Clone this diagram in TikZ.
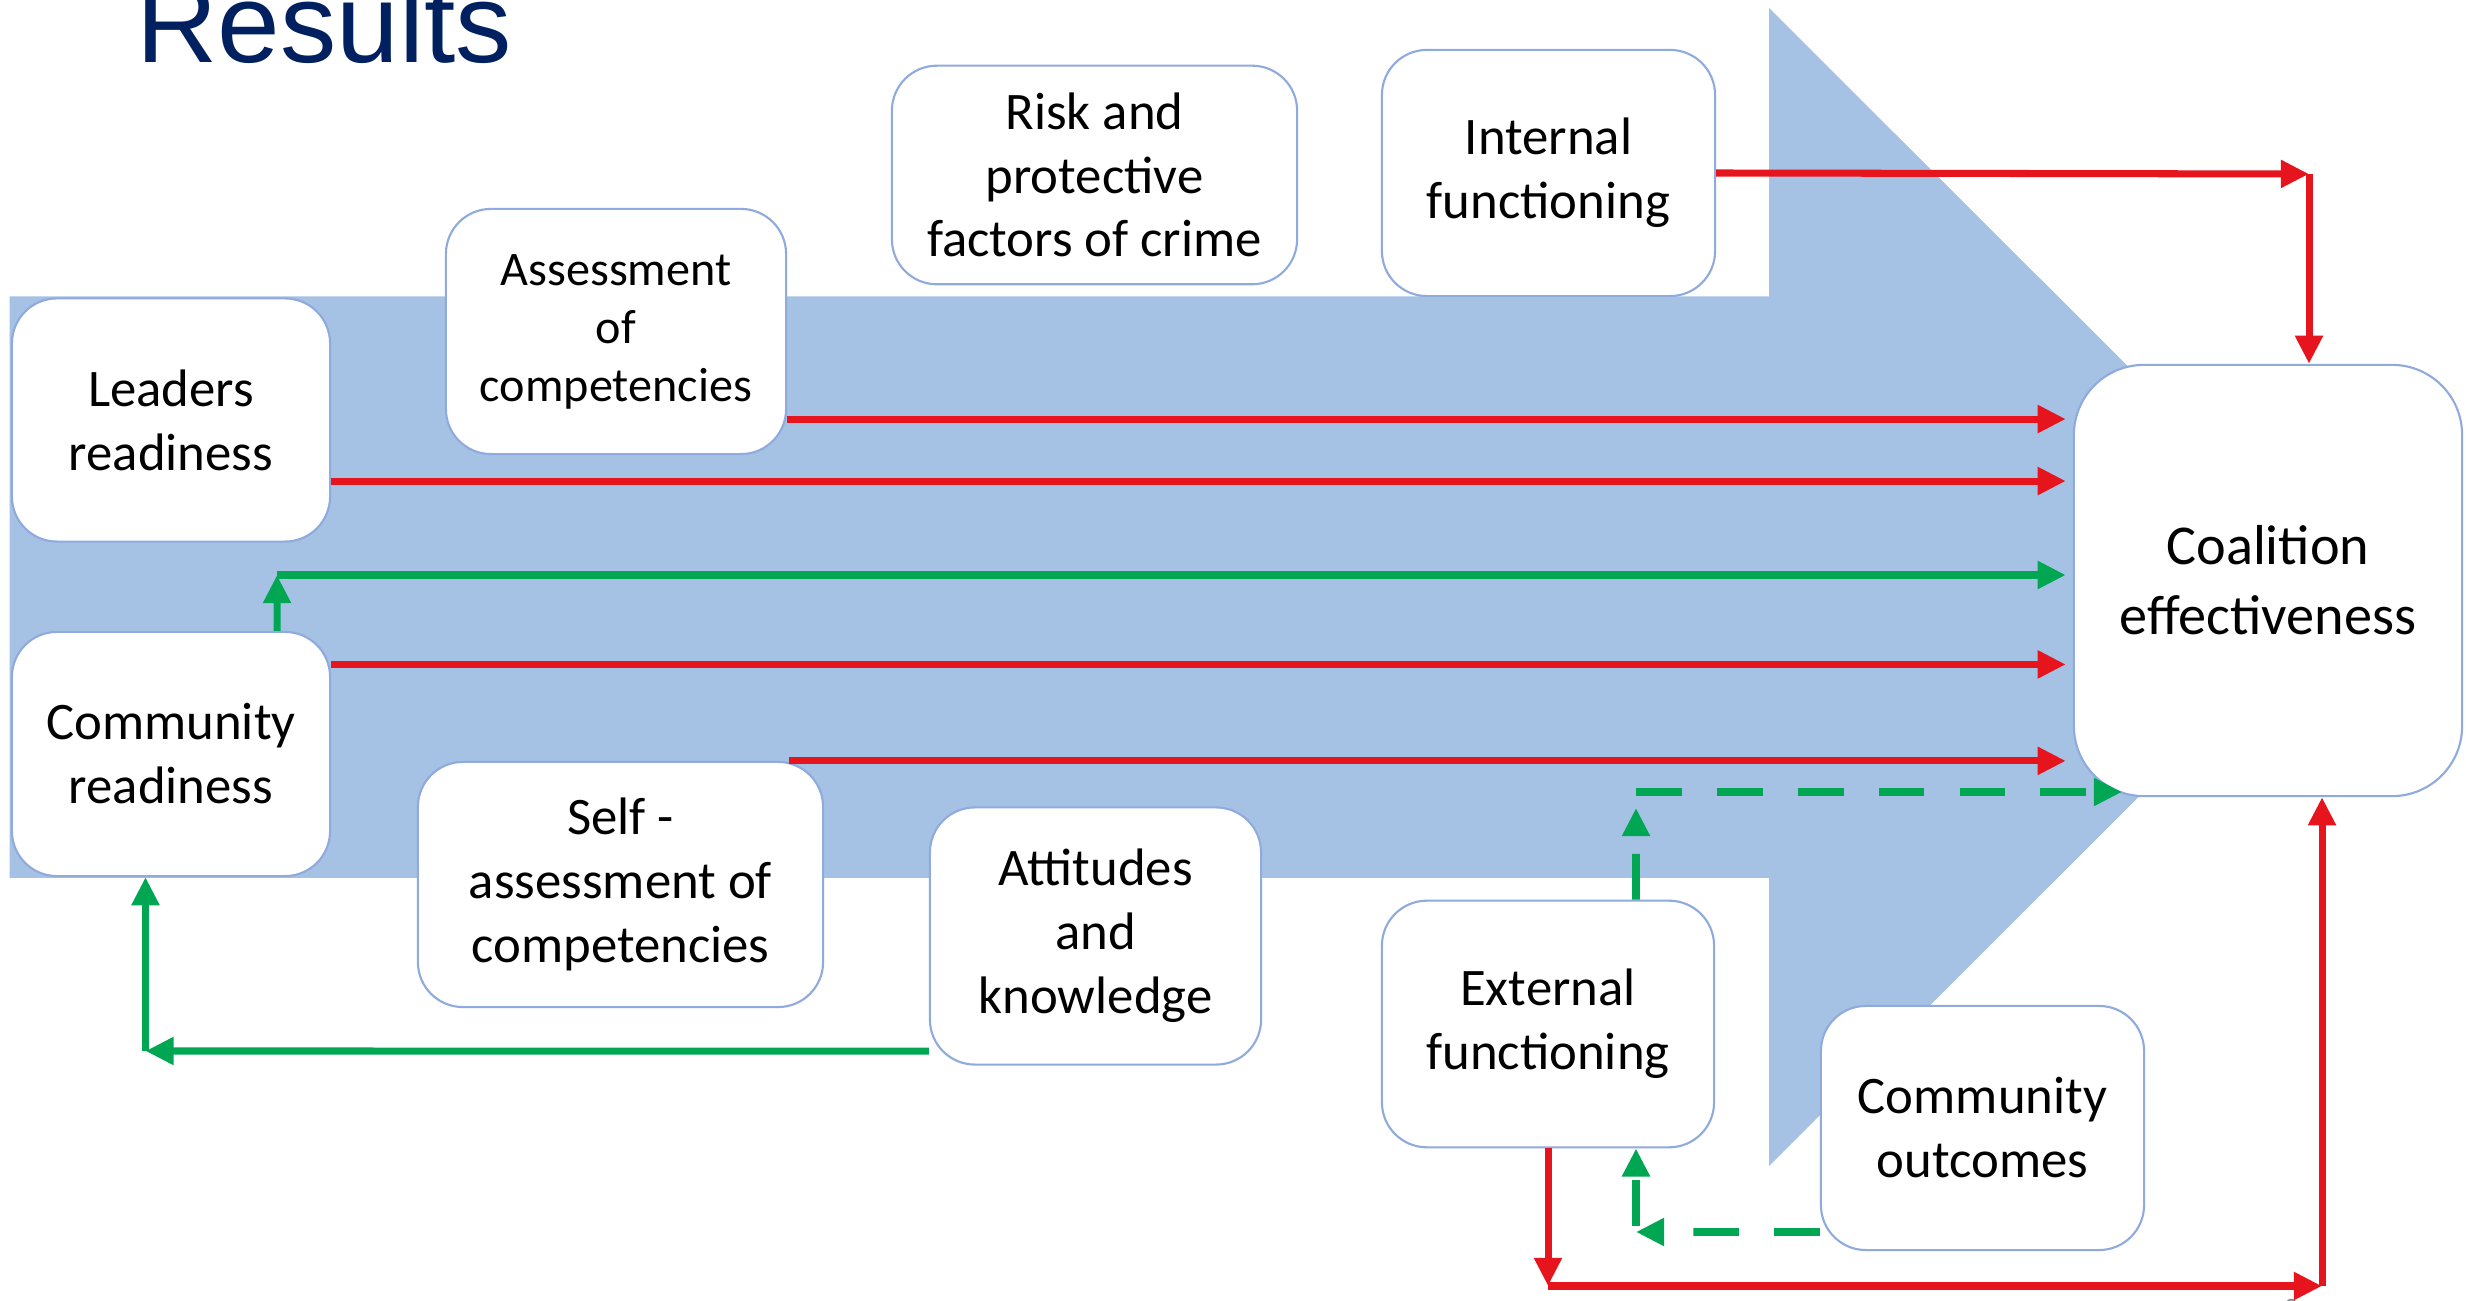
\documentclass[tikz,border=0pt]{standalone}
\usepackage{fontspec}
\setmainfont{Carlito}
\newfontfamily\headfont{Liberation Sans}
\usepackage{tikz}
\usetikzlibrary{arrows.meta}
\definecolor{shaftblue}{RGB}{165,194,229}
\definecolor{boxline}{RGB}{143,170,220}
\definecolor{linkred}{RGB}{230,20,28}
\definecolor{linkgreen}{RGB}{0,166,81}
\definecolor{headblue}{RGB}{0,32,96}
\tikzset{factor/.style={draw=boxline, line width=0.6pt, fill=white, rounded corners=0.45cm, align=center, inner sep=0pt, font=\fontsize{15}{18.2}\selectfont}}
\tikzset{redlink/.style={draw=linkred, line width=2pt, -{Triangle[length=8pt, width=7.5pt]}}}
\tikzset{greenlink/.style={draw=linkgreen, line width=2pt, -{Triangle[length=8pt, width=7.5pt]}}}
\tikzset{greendash/.style={greenlink, line width=2.2pt, dash pattern=on 13pt off 10pt}}

\begin{document}
\begin{tikzpicture}[x=0.01cm, y=-0.01cm]
            \useasboundingbox (0,0) rectangle (2466,1301);
            \fill[shaftblue] (9.5,296.5) -- (1769,296.5) -- (1769,8) -- (2349,587) -- (1769,1166) -- (1769,878) -- (9.5,878) -- cycle;
            \node[anchor=base west, text=headblue, font=\headfont\fontsize{32}{38}\selectfont] (title) at (124,63) {Results};
            \node[text=black!45, anchor=north, font=\fontsize{8}{9}\selectfont] (page) at (2291,1287) {9};
            \node[factor, minimum width=3.18cm, minimum height=2.43cm] (lead) at (171,420) {Leaders\\readiness};
            \node[factor, minimum width=3.4cm, minimum height=2.45cm, font=\fontsize{13.7}{16.5}\selectfont] (assess) at (616,331.5) {Assessment\\of\\competencies};
            \node[factor, minimum width=4.05cm, minimum height=2.185cm, font=\fontsize{15}{18}\selectfont] (risk) at (1094.5,175) {Risk and\\protective\\factors of crime};
            \node[factor, minimum width=3.33cm, minimum height=2.46cm] (intf) at (1548.5,173) {\rule{0pt}{0.14cm}Internal\\functioning};
            \node[factor, minimum width=3.88cm, minimum height=4.31cm, rounded corners=0.7cm, font=\fontsize{16}{20}\selectfont] (coal) at (2268,580.5) {Coalition\\effectiveness};
            \node[factor, minimum width=3.18cm, minimum height=2.44cm] (comr) at (171,754) {Community\\readiness};
            \node[factor, minimum width=4.05cm, minimum height=2.45cm] (self) at (620.5,884.5) {Self -\\assessment of\\competencies};
            \node[factor, minimum width=3.31cm, minimum height=2.57cm] (att) at (1095.5,936) {Attitudes\\and\\knowledge};
            \node[factor, minimum width=3.32cm, minimum height=2.465cm] (extf) at (1548,1024) {\rule{0pt}{0.14cm}External\\functioning};
            \node[factor, minimum width=3.23cm, minimum height=2.44cm] (cout) at (1982.5,1128) {Community\\outcomes};
            \coordinate (icorner) at (2309,174);
            \draw[redlink] (intf.east) -- (icorner);
            \draw[redlink] (icorner) -- (icorner |- coal.north);
            \foreach \src/\dy in {assess/-0.875, lead/-0.61, comr/0.895} {
                \path ([yshift=\dy cm]\src.east) coordinate (s);
                \draw[redlink, shorten >=0.07cm] (s) -- (s -| coal.west);
            }
            \path ([xshift=1.685cm]self.north) coordinate (s);
            \draw[redlink, shorten >=0.07cm] (s) -- (s -| coal.west);
            \coordinate (gcorner) at (277,575);
            \draw[greenlink] ([xshift=1.06cm]comr.north) -- (gcorner);
            \draw[greenlink, shorten >=0.07cm] (gcorner) -- (gcorner -| coal.west);
            \coordinate (acorner) at (145.5,1051);
            \draw[greenlink] ([yshift=-1.15cm]att.west) -- (acorner);
            \draw[greenlink] (acorner) -- (acorner |- comr.south);
            \coordinate (eup) at (1636,808);
            \coordinate (estart) at (1636,792);
            \coordinate (eend) at (2122,792);
            \draw[greendash] ([xshift=0.88cm]extf.north) -- (eup);
            \draw[greendash] (estart) -- (eend);
            \coordinate (ccorner) at (1636,1232);
            \draw[greendash] ([yshift=-1.04cm]cout.west) -- (ccorner);
            \draw[greendash] ([yshift=0.06cm]ccorner) -- (ccorner |- extf.south);
            \coordinate (rdown) at (1548,1286);
            \coordinate (rright) at (2322,1286);
            \draw[redlink] (extf.south) -- (rdown);
            \draw[redlink] (rdown) -- (rright);
            \draw[redlink] (rright) -- (rright |- coal.south);
        \end{tikzpicture}
\end{document}
